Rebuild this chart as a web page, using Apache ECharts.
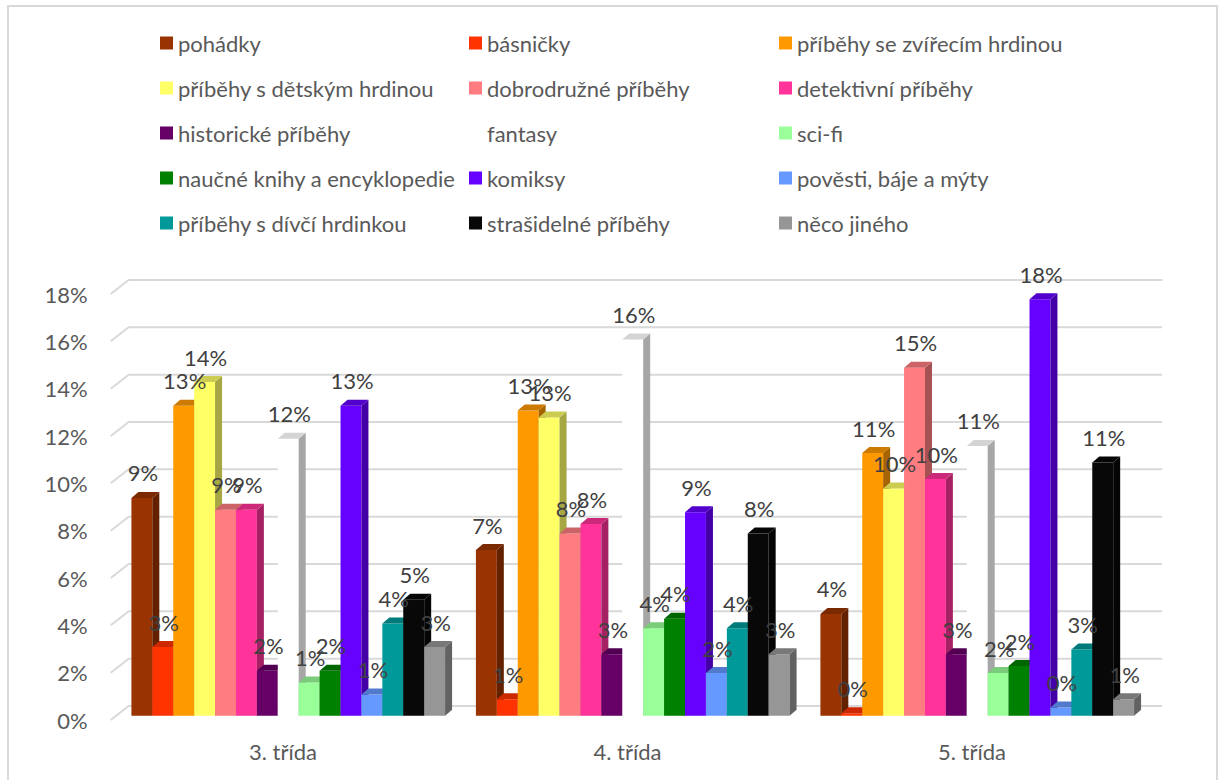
<!DOCTYPE html>
<html>
<head>
<meta charset="utf-8">
<script src="https://cdn.jsdelivr.net/npm/echarts@6/dist/echarts.min.js"></script>
<style>
html,body{margin:0;padding:0;background:#fff;}
#chart{width:1220px;height:780px;}
</style>
</head>
<body>
<div id="chart"></div>
<script>
// ---- data ----
const categories = ['3. třída', '4. třída', '5. třída'];
const yTicks = [0, 2, 4, 6, 8, 10, 12, 14, 16, 18];

const seriesNames = [
  'pohádky', 'básničky', 'příběhy se zvířecím hrdinou',
  'příběhy s dětským hrdinou', 'dobrodružné příběhy', 'detektivní příběhy',
  'historické příběhy', 'fantasy', 'sci-fi',
  'naučné knihy a encyklopedie', 'komiksy', 'pověsti, báje a mýty',
  'příběhy s dívčí hrdinkou', 'strašidelné příběhy', 'něco jiného'
];

const pohadky      = [9.2, 7.0, 4.3];
const basnicky     = [2.9, 0.7, 0.1];
const zvireci      = [13.1, 12.9, 11.1];
const detsky       = [14.1, 12.6, 9.6];
const dobrodruzne  = [8.7, 7.7, 14.7];
const detektivni   = [8.7, 8.1, 10.0];
const historicke   = [1.9, 2.6, 2.6];
const fantasy      = [11.7, 15.9, 11.4];
const scifi        = [1.4, 3.7, 1.8];
const naucne       = [1.9, 4.1, 2.1];
const komiksy      = [13.1, 8.6, 17.6];
const povesti      = [0.9, 1.8, 0.35];
const divci        = [3.9, 3.7, 2.8];
const strasidelne  = [4.9, 7.7, 10.7];
const jine         = [2.9, 2.6, 0.7];

const seriesValues = [pohadky, basnicky, zvireci, detsky, dobrodruzne, detektivni,
  historicke, fantasy, scifi, naucne, komiksy, povesti, divci, strasidelne, jine];

const seriesColors = ['#993300', '#FF3300', '#FF9900', '#FFFF66', '#FF7C80', '#FF3399',
  '#660066', '#FFFFFF', '#99FF99', '#008000', '#6600FF', '#6699FF', '#009999', '#080808', '#969696'];

// ---- styling ----
const FONT = 'Lato, "Open Sans", sans-serif';
const FS = 22;
const DX = 7, DY = -6;          // bar depth
const SHIFT_X = 5.3, SHIFT_Y = -4.3; // bar plane offset from front
const WALL_DX = 18, WALL_DY = -14;   // back wall offset

function shade(hex, f) {
  const n = parseInt(hex.slice(1), 16);
  const r = Math.round(((n >> 16) & 255) * f), g = Math.round(((n >> 8) & 255) * f), b = Math.round((n & 255) * f);
  return 'rgb(' + r + ',' + g + ',' + b + ')';
}

function makeRender(si, color) {
  const isWhite = color.toUpperCase() === '#FFFFFF';
  const topC = isWhite ? '#d4d4d4' : shade(color, 0.8);
  const sideC = isWhite ? '#a6a6a6' : shade(color, 0.65);
  const n = seriesNames.length;
  return function (params, api) {
    const cat = api.value(0), v = api.value(1);
    const b = api.coord([cat, 0]), t = api.coord([cat, v]);
    const bw = api.size([1, 0])[0];
    const w = bw * 0.0607;
    const x = b[0] + SHIFT_X - (n / 2) * w + si * w;
    const yb = b[1] + SHIFT_Y, yt = t[1] + SHIFT_Y;
    return {
      type: 'group',
      children: [
        { type: 'rect', shape: { x: x, y: yt, width: w, height: yb - yt }, style: { fill: color } },
        { type: 'polygon', shape: { points: [[x + w, yt], [x + w + DX, yt + DY], [x + w + DX, yb + DY], [x + w, yb]] }, style: { fill: sideC } },
        { type: 'polygon', shape: { points: [[x, yt], [x + DX, yt + DY], [x + w + DX, yt + DY], [x + w, yt]] }, style: { fill: topC } },
        { type: 'text', z2: 100, style: { text: Math.round(v) + '%', x: x + w / 2 + 1, y: yt - 25, align: 'center', verticalAlign: 'middle', fill: '#404040', font: FS + 'px ' + FONT } }
      ]
    };
  };
}

const series = [];
// 3D grid lines (back wall)
series.push({
  type: 'custom', name: '_grid', z: 1, silent: true,
  data: yTicks.map(v => [0, v]),
  encode: { x: 0, y: 1 },
  renderItem: function (params, api) {
    const y = api.coord([0, api.value(1)])[1];
    const cs = params.coordSys;
    return {
      type: 'polyline',
      shape: { points: [[cs.x, y], [cs.x + WALL_DX, y + WALL_DY], [cs.x + cs.width + WALL_DX, y + WALL_DY]] },
      style: { stroke: '#d9d9d9', lineWidth: 2, fill: null }
    };
  }
});
seriesNames.forEach(function (name, si) {
  series.push({
    type: 'custom', name: name, z: 2, silent: true,
    itemStyle: { color: seriesColors[si] },
    data: seriesValues[si].map((v, ci) => [ci, v]),
    encode: { x: 0, y: 1 },
    renderItem: makeRender(si, seriesColors[si])
  });
});

function legendCol(col, left) {
  return {
    orient: 'vertical', left: left, top: 31, padding: 0,
    itemWidth: 13, itemHeight: 13, itemGap: 21,
    icon: 'rect', selectedMode: false,
    data: seriesNames.filter((_, i) => i % 3 === col),
    textStyle: { color: '#595959', fontSize: FS, fontFamily: FONT, lineHeight: 24 }
  };
}

const chart = echarts.init(document.getElementById('chart'), null, { renderer: 'svg' });
chart.setOption({
  animation: false,
  backgroundColor: '#fff',
  graphic: [{ type: 'rect', shape: { x: 8, y: 6, width: 1209, height: 800 }, style: { fill: 'none', stroke: '#d9d9d9', lineWidth: 2 }, silent: true }],
  legend: [legendCol(0, 160), legendCol(1, 469), legendCol(2, 779)],
  grid: { left: 110.7, right: 75.8, top: 294, bottom: 60 },
  xAxis: {
    type: 'category', data: categories,
    axisLine: { show: false }, axisTick: { show: false },
    axisLabel: { color: '#595959', fontSize: FS, fontFamily: FONT, margin: 20 }
  },
  yAxis: {
    type: 'value', min: 0, max: 18, interval: 2,
    axisLine: { show: false }, axisTick: { show: false }, splitLine: { show: false },
    axisLabel: { color: '#595959', fontSize: FS, fontFamily: FONT, margin: 23, formatter: '{value}%' }
  },
  series: series
});
</script>
</body>
</html>
